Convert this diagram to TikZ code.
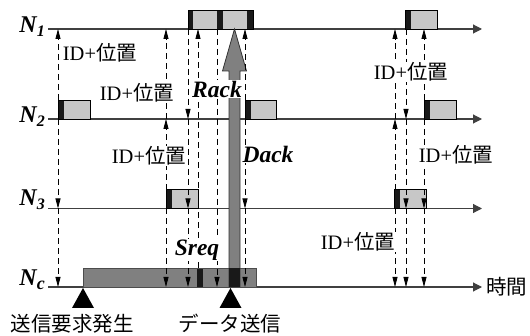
\documentclass[tikz,border=0pt]{standalone}
\usepackage{fontspec}
\setmainfont{Liberation Serif}
\newfontfamily\jp{Noto Sans CJK JP}
\usetikzlibrary{arrows.meta}
\newcommand\drawpkt[3]{% x, bottom y, width
  \fill[black!22] (#1,#2) rectangle ++(#3,-19);
  \fill[black!90] (#1,#2) rectangle ++(6,-19);
  \draw[line width=0.8pt] (#1,#2) rectangle ++(#3,-19);
}
\begin{document}
\begin{tikzpicture}[x=1pt,y=-1pt,
  axis/.style={line width=1.1pt,draw=black!75,-{Triangle[width=9pt,length=9pt]}},
  msg/.style={line width=0.8pt,dash pattern=on 6pt off 4pt,-{Triangle[width=5pt,length=10pt]}},
  lbl/.style={fill=white,inner sep=1pt,font=\fontsize{20.5}{22}\selectfont},
  nlbl/.style={inner sep=0pt,font=\fontsize{24}{24}\selectfont\bfseries\itshape},
  bold/.style={fill=white,inner sep=1pt,font=\fontsize{23.5}{24}\selectfont\bfseries\itshape},
  jlbl/.style={inner sep=0pt,font=\fontsize{20.5}{22}\selectfont\jp}
]
\useasboundingbox (0,0) rectangle (530,336);
% axes
\coordinate (s1) at (48,29);   \coordinate (e1) at (482,29);
\coordinate (s2) at (48,119);  \coordinate (e2) at (482,119);
\coordinate (s3) at (48,208.5);\coordinate (e3) at (482,208.5);
\coordinate (sc) at (48,287);  \coordinate (ec) at (482,287);
\draw[axis] (s1) -- (e1);
\draw[axis] (s2) -- (e2);
\draw[axis] (s3) -- (e3);
\draw[axis] (sc) -- (ec);
% labels of axes
\node[nlbl,anchor=base east] (n1) at (45,33) {N\raisebox{-0.3ex}{\fontsize{16}{16}\selectfont 1}};
\node[nlbl,anchor=base east] (n2) at (45,123) {N\raisebox{-0.3ex}{\fontsize{16}{16}\selectfont 2}};
\node[nlbl,anchor=base east] (n3) at (45,206) {N\raisebox{-0.3ex}{\fontsize{16}{16}\selectfont 3}};
\node[nlbl,anchor=base east] (nc) at (45,286) {N\raisebox{-0.3ex}{\fontsize{18}{18}\selectfont c}};
\node[jlbl,anchor=west] (time) at (486,287) {時間};
% packets
\fill[black!22] (188,10) rectangle (253,29);
\fill[black!90] (188,10) rectangle (193,29);
\fill[black!90] (217,10) rectangle (223,29);
\fill[black!90] (247,10) rectangle (253,29);
\draw[line width=0.8pt] (188,10) rectangle (253,29);
\drawpkt{405}{29}{32}
\drawpkt{58}{119}{32}
\drawpkt{245}{119}{31}
\drawpkt{424}{119}{32}
\drawpkt{166}{208.5}{32}
\drawpkt{394}{208.5}{32}
% Nc box
\fill[black!50] (83,268) rectangle (256,287);
\fill[black!90] (197,268) rectangle (203,287);
\draw[black!70,line width=0.8pt] (83,268) rectangle (256,287);
% big arrow
\draw[fill=black!50,draw=black!80,line width=0.8pt]
  (229,287) -- (229,71) -- (222.5,71) -- (234.5,29) -- (246.5,71) -- (240,71) -- (240,287);
\fill[black!90] (229,268) rectangle (240,287);
% dashed messages
\foreach \x/\a/\b in {58/100/29, 166/190/119, 166/119/29, 198/268/29, 245/100/29,
   395/190/119, 395/119/29, 424/100/29,
   58/119/208.5, 58/208.5/287, 166/208.5/287, 188/29/119, 188/119/208.5, 188/208.5/287,
   217/29/287, 245/119/208.5, 245/208.5/287, 395/208.5/287,
   406/29/119, 406/119/208.5, 406/208.5/287, 424/119/208.5, 424/208.5/287}
  \draw[msg] (\x,\a) -- (\x,\b);
% labels
\node[lbl] (l1) at (100,53) {ID+{\jp 位置}};
\node[lbl] (l2) at (137,93) {ID+{\jp 位置}};
\node[lbl] (l3) at (149,156) {ID+{\jp 位置}};
\node[lbl] (r1) at (411,72) {ID+{\jp 位置}};
\node[lbl] (r2) at (456,155) {ID+{\jp 位置}};
\node[lbl] (r3) at (358,242) {ID+{\jp 位置}};
\node[bold] (rack) at (217,89) {Rack};
\node[bold] (dack) at (268,154) {Dack};
\node[bold] (sreq) at (197,250) {Sreq};
% event markers
\fill (83,288) -- (72,308) -- (94,308) -- cycle;
\fill (230.5,288) -- (219.5,308) -- (241.5,308) -- cycle;
\node[jlbl] (ev1) at (72,324) {送信要求発生};
\node[jlbl] (ev2) at (230,324) {データ送信};
\end{tikzpicture}
\end{document}
